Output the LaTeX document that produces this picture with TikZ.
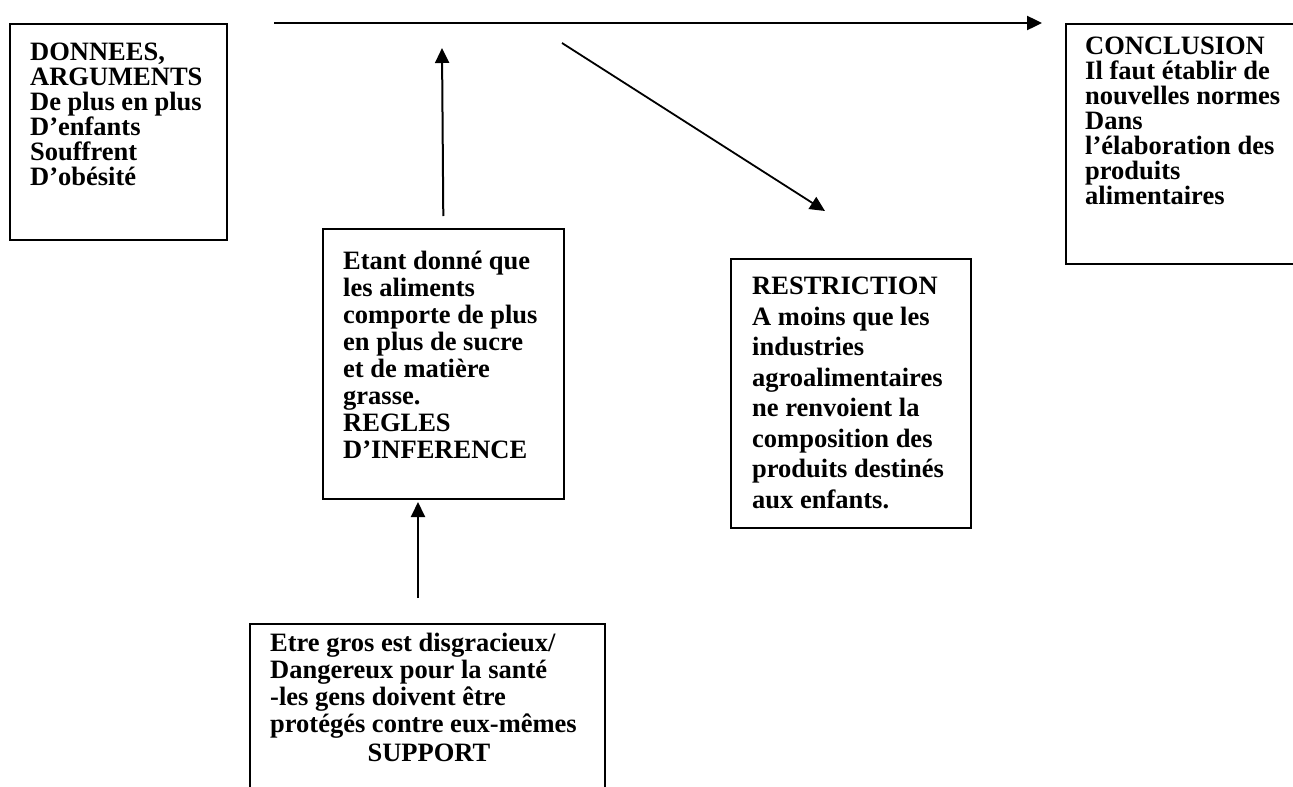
\documentclass[tikz,border=0pt]{standalone}
\usepackage{fontspec}
\setmainfont{Liberation Serif}
\usetikzlibrary{arrows.meta, calc}

\tikzset{
    box/.style={draw, line width=1.6pt, inner sep=0pt, anchor=north west},
    txt/.style={inner sep=0pt, anchor=north west, align=left,
        font=\bfseries\fontsize{26.5}{#1}\selectfont},
    txt/.default=25,
    arr/.style={-{Triangle[length=15pt, width=14pt]}, line width=2pt}
}

\begin{document}
\begin{tikzpicture}[x=1pt, y=-1pt]
    \useasboundingbox (0,0) rectangle (1293,787);
    \clip (0,0) rectangle (1293,787);

    % Boxes
    \node[box, minimum width=217pt, minimum height=216pt] (donnees) at (9,23) {};
    \node[box, minimum width=260pt, minimum height=240pt] (conclusion) at (1065,23) {};
    \node[box, minimum width=241pt, minimum height=270pt] (regles) at (322,228) {};
    \node[box, minimum width=240pt, minimum height=269pt] (restriction) at (730,258) {};
    \node[box, minimum width=355pt, minimum height=200pt] (support) at (249,623) {};

    % Texts
    \node[txt] (donneestxt) at (30,43) {DONNEES,\\ARGUMENTS\\De plus en plus\\D’enfants\\Souffrent\\D’obésité};
    \node[txt] (conclusiontxt) at (1085,37) {CONCLUSION\\Il faut établir de\\nouvelles normes\\Dans\\l’élaboration des\\produits\\alimentaires};
    \node[txt=27] (reglestxt) at (343,251) {Etant donné que\\les aliments\\comporte de plus\\en plus de sucre\\et de matière\\grasse.\\REGLES\\D’INFERENCE};
    \node[txt=30.5] (restrictiontxt) at (752,277) {RESTRICTION\\A moins que les\\industries\\agroalimentaires\\ne renvoient la\\composition des\\produits destinés\\aux enfants.};
    \node[txt=27] (supporttxt) at (270,633) {Etre gros est disgracieux/\\Dangereux pour la santé\\-les gens doivent être\\protégés contre eux-mêmes};
    \node[txt, anchor=base] (supportlbl) at (429,761) {SUPPORT};

    % Arrows
    \coordinate (hstart) at (274,23);
    \coordinate (hend) at (1042,23);
    \coordinate (dstart) at (562,43);
    \coordinate (dend) at (825,211);
    \coordinate (ustart) at ([yshift=12pt]regles.north);
    \coordinate (uend) at (442,48);
    \coordinate (sstart) at (418,598);
    \coordinate (send) at (418,502);
    \draw[arr, line width=2.4pt] (hstart) -- (hend);
    \draw[arr, line width=1.8pt] (dstart) -- (dend);
    \draw[arr] (ustart) -- (uend);
    \draw[arr] (sstart) -- (send);
\end{tikzpicture}
\end{document}
